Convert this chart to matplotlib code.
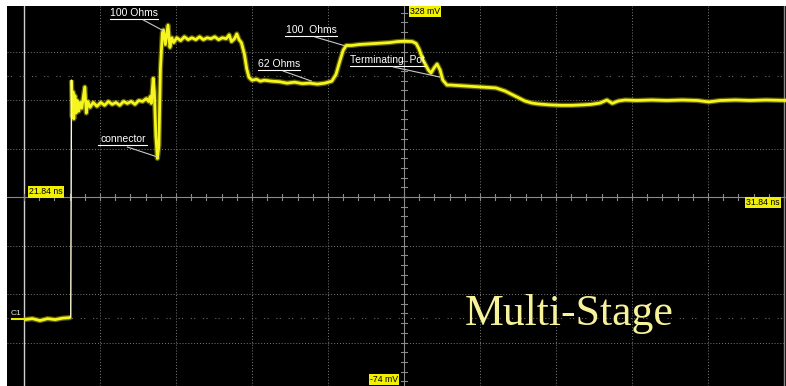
import matplotlib.pyplot as plt
import numpy as np

# Scope settings: 1 ns/div horizontally, ~50 mV/div vertically
T_LEFT, T_RIGHT = 21.84, 31.84
V_BOTTOM, V_TOP = -74.0, 328.0

# TDR trace (time in ns, level in mV)
t_ns = [21.84, 21.95, 22.05, 22.15, 22.25, 22.35, 22.44,
        22.455, 22.465, 22.475, 22.485, 22.495, 22.51, 22.525, 22.54, 22.56, 22.58,
        22.60, 22.62, 22.64, 22.66, 22.68, 22.71, 22.75, 22.80, 22.85, 22.90,
        22.95, 23.00, 23.05, 23.10, 23.15, 23.20, 23.25, 23.30, 23.35, 23.40,
        23.45, 23.48, 23.50, 23.515, 23.54, 23.555, 23.575, 23.595, 23.615, 23.635,
        23.66, 23.675, 23.70, 23.735, 23.76, 23.785, 23.81,
        23.85, 23.90, 23.95, 24.00, 24.05, 24.10, 24.15, 24.20, 24.25, 24.30,
        24.35, 24.40, 24.45, 24.50, 24.54, 24.57, 24.61, 24.64, 24.67, 24.70,
        24.74, 24.77, 24.80, 24.84, 24.90, 24.95, 25.00, 25.10, 25.20, 25.30,
        25.40, 25.50, 25.60, 25.70, 25.80, 25.89, 25.945, 26.00, 26.04, 26.08,
        26.15, 26.25, 26.35, 26.45, 26.55, 26.65, 26.75, 26.85, 26.95, 27.00,
        27.04, 27.09, 27.16, 27.195, 27.235, 27.275, 27.315, 27.35, 27.405,
        27.45, 27.55, 27.65, 27.75, 27.85, 27.95, 28.05, 28.17, 28.30, 28.43,
        28.52, 28.60, 28.75, 28.90, 29.05, 29.20, 29.30, 29.42, 29.51, 29.58,
        29.66, 29.75, 29.90, 30.10, 30.30, 30.50, 30.70, 30.85, 31.00, 31.20,
        31.40, 31.60, 31.87]
level_mv = [0, 1, -1, 1, 0, 1.5, 2,
            3, 248, 210, 236, 208, 232, 214, 227, 216, 225,
            219, 230, 241, 214, 226, 220, 225, 221, 225, 222,
            226, 223, 225, 222, 226, 224, 226, 223, 227, 226,
            229, 226, 231, 224, 250, 236, 190, 167, 180, 260,
            297, 300, 285, 305, 282, 292, 287,
            292, 289, 293, 290, 292, 290, 293, 290, 292, 291,
            293, 290, 292, 291, 295, 288, 291, 296, 290, 287,
            275, 260, 251, 248, 249, 247, 248, 247, 246.5, 245,
            246, 244.5, 245, 244, 245, 247, 254, 269, 279, 284,
            284, 285, 285.5, 286, 286.5, 287, 288, 288.5, 288, 286,
            280, 269, 258.6, 255.5, 260.7, 264.8, 258.6, 248.2, 243,
            243, 242.5, 242, 241.5, 241, 240.5, 240, 236.8, 231.7, 226.5,
            224.4, 223.5, 222.5, 222, 222, 222.5, 223, 224.4, 227.5, 224,
            226.5, 227.5, 227, 227.5, 227, 227.5, 227, 225.5, 227, 227.5,
            227, 227.5, 227]

# Annotations: (label, text centre, underline span, leader start, leader end)
notes = [
    ("100 Ohms", (23.29, 317.6), (22.97, 23.60, 311.4), (23.41, 310.4), (23.68, 299.0)),
    ("connector", (23.14, 187.1), (22.81, 23.46, 180.9), (23.20, 178.8), (23.60, 168.4)),
    ("62 Ohms", (25.20, 264.8), (24.92, 25.47, 258.6), (25.25, 257.5), (25.62, 247.2)),
    ("100  Ohms", (25.62, 300.0), (25.27, 25.96, 293.8), (25.67, 292.8), (26.07, 283.5)),
    ("Terminating  Pot", (26.62, 269.0), (26.13, 27.11, 262.7), (26.70, 261.7), (27.31, 251.3)),
]

fig = plt.figure(figsize=(7.86, 3.86), dpi=100, facecolor="white")
ax = fig.add_axes([7 / 786, 0, 779 / 786, 380 / 386])
ax.set_facecolor("black")
ax.set_xlim(21.6163, 31.866)
ax.set_ylim(-68.8, 324.9)
ax.set_xticks([])
ax.set_yticks([])
for s in ax.spines.values():
    s.set_visible(False)

div_v = (V_TOP - V_BOTTOM) / 8
t_mid = T_LEFT + 5
v_mid = V_BOTTOM + 4 * div_v
grid_col = "#7c7c7c"

# graticule
for k in range(1, 10):
    if k == 5:
        continue
    ax.axvline(T_LEFT + k, color=grid_col, lw=0.7, ls=(0, (1, 2)), zorder=1)
for j in range(1, 8):
    if j == 4:
        continue
    ax.axhline(V_BOTTOM + j * div_v, color=grid_col, lw=0.7, ls=(0, (1, 2)), zorder=1)
ax.axvline(T_LEFT, color="#d0d0d0", lw=1.0, zorder=1)
ax.axvline(T_RIGHT, color="#8a8a8a", lw=1.0, zorder=1)
ax.axvline(t_mid, color="#8a8a8a", lw=0.8, zorder=1)
ax.axhline(v_mid, color="#8a8a8a", lw=0.8, zorder=1)

# minor ticks on the centre lines
for v in np.arange(V_BOTTOM, V_TOP + 1, div_v / 5):
    ax.plot([t_mid - 0.04, t_mid + 0.04], [v, v], color="#8a8a8a", lw=0.8, zorder=1)
for t in np.arange(T_LEFT, T_RIGHT + 0.01, 0.2):
    ax.plot([t, t], [v_mid - 3, v_mid + 3], color="#8a8a8a", lw=0.8, zorder=1)

# rise-time marker lines
for v in (v_mid - 2.5 * div_v, v_mid + 2.5 * div_v):
    ax.axhline(v, color="#6a6a6a", lw=0.8, ls=(0, (1, 2, 1, 7)), zorder=1)

# trace: baseline and reflections in yellow, the fast step edge thin and pale
for a, b in ((0, 8), (8, len(t_ns))):
    ax.plot(t_ns[a:b], level_mv[a:b], color="#b8b800", lw=3.8, alpha=0.5, zorder=3,
            solid_joinstyle="round", solid_capstyle="butt")
    ax.plot(t_ns[a:b], level_mv[a:b], color="#f6f61e", lw=2.0, zorder=4,
            solid_joinstyle="round", solid_capstyle="butt")
ax.plot(t_ns[7:9], level_mv[7:9], color="#fffbd8", lw=1.0, zorder=5)

# channel marker
ax.text(21.735, 6.8, "C1", color="#e0e0e0", fontsize=6, ha="center", va="center",
        family="Liberation Sans", clip_on=False)
ax.plot([21.68, 21.84], [0.6, 0.6], color="#e8e800", lw=1.5, zorder=4, clip_on=False)

# annotations
for label, (tx, ty), (u0, u1, uy), lead0, lead1 in notes:
    ax.text(tx, ty, label, color="white", fontsize=7.5, ha="center", va="center",
            family="Liberation Sans", zorder=6)
    ax.plot([u0, u1], [uy, uy], color="white", lw=0.8, zorder=6)
    ax.plot([lead0[0], lead1[0]], [lead0[1], lead1[1]], color="#c8c8c8", lw=0.8, zorder=6)

# readout boxes
box = dict(boxstyle="square,pad=0.12", fc="#f0f000", ec="none")
readouts = [("328 mV", 27.12, 319.0), ("21.84 ns", 22.13, 132.2),
            ("31.84 ns", 31.56, 121.3), ("-74 mV", 26.58, -62.0)]
for txt, tx, ty in readouts:
    ax.text(tx, ty, txt, color="black", fontsize=6.3, ha="center", va="center",
            family="Liberation Sans", bbox=box, zorder=7)

ax.text(27.64, -5.6, "Multi-Stage", color="#f7f29a", fontsize=31.5, ha="left",
        va="baseline", family="Liberation Serif", zorder=7)

fig.savefig("out.png", dpi=100, facecolor="white")
